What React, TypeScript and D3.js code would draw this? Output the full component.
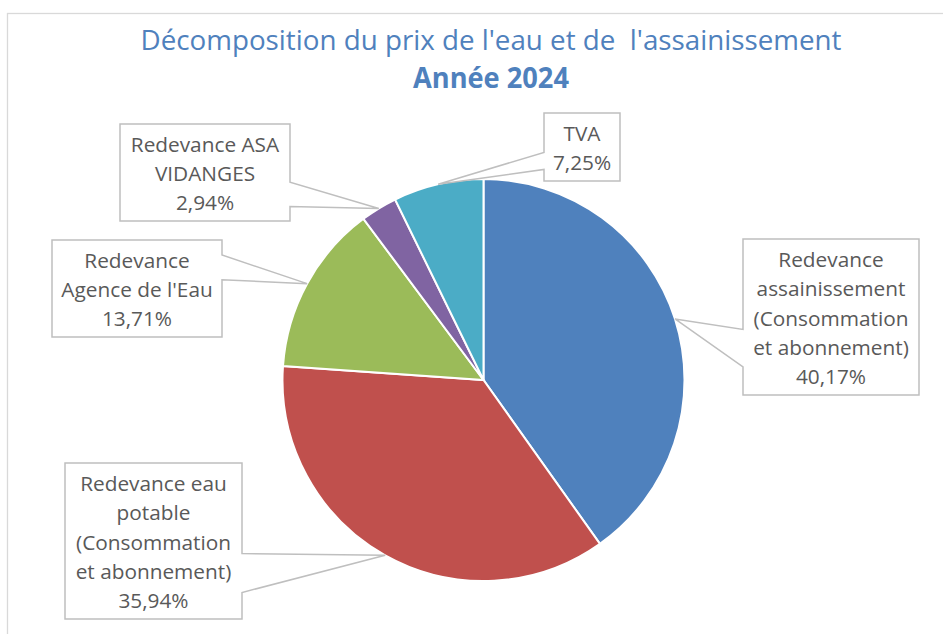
import React from "react";
import * as d3 from "d3";

const categories = [
  "Redevance assainissement (Consommation et abonnement)",
  "Redevance eau potable (Consommation et abonnement)",
  "Redevance Agence de l'Eau",
  "Redevance ASA VIDANGES",
  "TVA",
];
const values = [40.17, 35.94, 13.71, 2.94, 7.25];
const labelLines = [
  ["Redevance", "assainissement", "(Consommation", "et abonnement)"],
  ["Redevance eau", "potable", "(Consommation", "et abonnement)"],
  ["Redevance", "Agence de l'Eau"],
  ["Redevance ASA", "VIDANGES"],
  ["TVA"],
];
const colors = ["#4F81BD", "#C0504D", "#9BBB59", "#8064A2", "#4BACC6"];
const titleLine1 = "Décomposition du prix de l'eau et de  l'assainissement";
const titleLine2 = "Année 2024";

// callout layout (box position, wedge side and wedge base fractions)
const boxes = [
  { x: 743, y: 239, w: 176, h: 156, side: "left", b0: 0.58, b1: 0.82 },
  { x: 65, y: 463, w: 177, h: 156, side: "right", b0: 0.58, b1: 0.83 },
  { x: 52, y: 240, w: 170, h: 97, side: "right", b0: 0.155, b1: 0.41 },
  { x: 120, y: 124, w: 170, h: 97, side: "right", b0: 0.6, b1: 0.85 },
  { x: 544, y: 113, w: 76, h: 68, side: "left", b0: 0.58, b1: 0.83 },
];

const W = 943;
const H = 634;
const cx = 483.5;
const cy = 380;
const R = 201;
const LINE_H = 29.3;

export default function App() {
  const pie = d3
    .pie<number>()
    .sort(null)
    .value((d) => d)
    .startAngle(0)
    .endAngle(2 * Math.PI);
  const arcs = pie(values);
  const arcGen = d3.arc<d3.PieArcDatum<number>>().innerRadius(0).outerRadius(R);
  const tipGen = d3.arc<d3.PieArcDatum<number>>().innerRadius(R).outerRadius(R);
  const fmt = (v: number) => v.toFixed(2).replace(".", ",") + "%";

  return (
    <svg
      width={W}
      height={H}
      style={{ position: "absolute", left: 0, top: 0, background: "#fff" }}
    >
      <rect x={7.5} y={13.5} width={1000} height={700} fill="#fff" stroke="#D9D9D9" strokeWidth={1.3} />
      <text
        x={491}
        y={50}
        textAnchor="middle"
        fontFamily="'Open Sans', sans-serif"
        fontSize={28}
        fill="#4F81BD"
        textLength={701}
        lengthAdjust="spacingAndGlyphs"
        style={{ whiteSpace: "pre" }}
      >
        {titleLine1}
      </text>
      <text
        x={491}
        y={88}
        textAnchor="middle"
        fontFamily="'Open Sans', sans-serif"
        fontSize={28}
        fontWeight="bold"
        fill="#4F81BD"
        textLength={156}
        lengthAdjust="spacingAndGlyphs"
      >
        {titleLine2}
      </text>
      <g transform={`translate(${cx},${cy})`}>
        {arcs.map((a, i) => (
          <path key={i} d={arcGen(a) || ""} fill={colors[i]} stroke="#fff" strokeWidth={2} />
        ))}
      </g>
      {arcs.map((a, i) => {
        const b = boxes[i];
        const [tx0, ty0] = tipGen.centroid(a);
        const tx = tx0 + cx;
        const ty = ty0 + cy;
        let d = "";
        if (b.side === "left") {
          d = `M${b.x},${b.y} L${b.x + b.w},${b.y} L${b.x + b.w},${b.y + b.h} L${b.x},${b.y + b.h} L${b.x},${b.y + b.b1 * b.h} L${tx},${ty} L${b.x},${b.y + b.b0 * b.h} Z`;
        } else {
          d = `M${b.x},${b.y} L${b.x + b.w},${b.y} L${b.x + b.w},${b.y + b.b0 * b.h} L${tx},${ty} L${b.x + b.w},${b.y + b.b1 * b.h} L${b.x + b.w},${b.y + b.h} L${b.x},${b.y + b.h} Z`;
        }
        const lines = [...labelLines[i], fmt(values[i])];
        const mid = b.y + b.h / 2;
        const first = mid - ((lines.length - 1) * LINE_H) / 2;
        return (
          <g key={categories[i]}>
            <path d={d} fill="#fff" stroke="#BFBFBF" strokeWidth={1.5} strokeLinejoin="miter" />
            <text
              textAnchor="middle"
              fontFamily="'Open Sans', sans-serif"
              fontSize={20.8}
              fill="#595959"
            >
              {lines.map((l, j) => (
                <tspan key={j} x={b.x + b.w / 2} y={first + j * LINE_H + 8.5}>
                  {l}
                </tspan>
              ))}
            </text>
          </g>
        );
      })}
    </svg>
  );
}
